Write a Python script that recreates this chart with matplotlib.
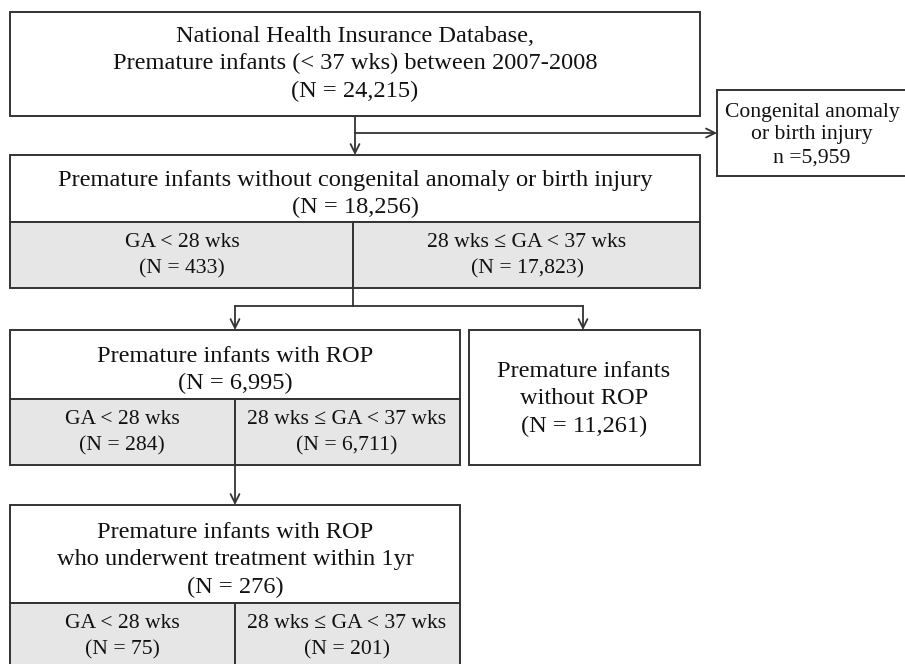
import matplotlib.pyplot as plt
from matplotlib.patches import Rectangle

plt.rcParams['font.family'] = ['Liberation Serif', 'DejaVu Serif']

# Zahlen aus dem Flussdiagramm
total_n = 24215
excluded_n = 5959
cohort_n = 18256
cohort_split = [433, 17823]
rop_n = 6995
rop_split = [284, 6711]
no_rop_n = 11261
treated_n = 276
treated_split = [75, 201]
ga_groups = ["GA < 28 wks", "28 wks \u2264 GA < 37 wks"]

EDGE = '#333333'
GRAY = '#e6e6e6'
FS = 17.6
FS_SMALL = 15.6

fig = plt.figure(figsize=(9.05, 6.64), dpi=100)
ax = fig.add_axes([0, 0, 1, 1])
ax.set_xlim(0, 905)
ax.set_ylim(664, 0)
ax.axis('off')


def box(x0, y0, x1, y1, fill='white'):
    ax.add_patch(Rectangle((x0, y0), x1 - x0, y1 - y0, facecolor=fill,
                           edgecolor=EDGE, linewidth=1.4, zorder=2))


def txt(x, y, s, size=FS, ls=1.38):
    ax.text(x, y, s, ha='center', va='center', fontsize=size,
            color='#111111', linespacing=ls, zorder=3)


def cell(x, y, s):
    txt(x, y, s, size=FS_SMALL, ls=1.53)


def arrow(x0, y0, x1, y1):
    ax.annotate('', xy=(x1, y1), xytext=(x0, y0),
                arrowprops=dict(arrowstyle='->', color=EDGE, lw=1.3,
                                mutation_scale=16, shrinkA=0, shrinkB=0),
                zorder=1)


def line(xs, ys):
    ax.plot(xs, ys, color=EDGE, lw=1.3, zorder=1)


def fmt(n):
    return f"{n:,}"


# Box 1
box(10, 12, 700, 116)
txt(355, 64, "National Health Insurance Database,\n"
    "Premature infants (< 37 wks) between 2007-2008\n"
    f"(N = {fmt(total_n)})")

# Exclusion
arrow(355, 116, 355, 155)
arrow(355, 133, 717, 133)
box(717, 90, 907, 176)
txt(812, 135, f"Congenital anomaly\nor birth injury\nn ={fmt(excluded_n)}",
    size=FS_SMALL, ls=1.28)

# Box 2
box(10, 155, 700, 222)
box(10, 222, 353, 288, GRAY)
box(353, 222, 700, 288, GRAY)
txt(355, 194, "Premature infants without congenital anomaly or birth injury\n"
    f"(N = {fmt(cohort_n)})")
cell(182, 256, f"{ga_groups[0]}\n(N = {fmt(cohort_split[0])})")
cell(527, 256, f"{ga_groups[1]}\n(N = {fmt(cohort_split[1])})")

# Split arrows
line([353, 353], [288, 306])
line([235, 583], [306, 306])
arrow(235, 306, 235, 330)
arrow(583, 306, 583, 330)

# Box 3 left
box(10, 330, 460, 399)
box(10, 399, 235, 465, GRAY)
box(235, 399, 460, 465, GRAY)
txt(235, 370, f"Premature infants with ROP\n(N = {fmt(rop_n)})")
cell(122, 433, f"{ga_groups[0]}\n(N = {fmt(rop_split[0])})")
cell(347, 433, f"{ga_groups[1]}\n(N = {fmt(rop_split[1])})")

# Box 3 right
box(469, 330, 700, 465)
txt(584, 399, f"Premature infants\nwithout ROP\n(N = {fmt(no_rop_n)})")

# Box 4
arrow(235, 465, 235, 505)
box(10, 505, 460, 603)
box(10, 603, 235, 670, GRAY)
box(235, 603, 460, 670, GRAY)
txt(235, 560, "Premature infants with ROP\nwho underwent treatment within 1yr\n"
    f"(N = {fmt(treated_n)})")
cell(122, 637, f"{ga_groups[0]}\n(N = {fmt(treated_split[0])})")
cell(347, 637, f"{ga_groups[1]}\n(N = {fmt(treated_split[1])})")

fig.savefig("out.png", dpi=100)
